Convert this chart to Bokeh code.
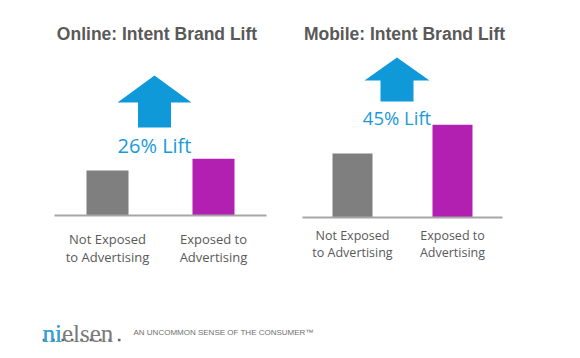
from bokeh.plotting import figure
from bokeh.models import Range1d
from bokeh.layouts import column, row
from bokeh.embed import file_html
from bokeh.resources import INLINE
from bokeh.core.properties import value

# ---------------- data ----------------
categories = ["Not Exposed\nto Advertising", "Exposed to\nAdvertising"]
online_values = [100, 126]     # intent index (not exposed = 100)
mobile_values = [100, 145]
online_lift = "26% Lift"
mobile_lift = "45% Lift"
online_title = "Online: Intent Brand Lift"
mobile_title = "Mobile: Intent Brand Lift"
brand_name = "nielsen"
brand_accent = "ni"
tagline = "AN UNCOMMON SENSE OF THE CONSUMER\u2122"
n_brand_dots = 9

# ---------------- styles ----------------
BAR_COLORS = ["#7f7f7f", "#b120b0"]
BLUE = "#0f99d8"
LIFT_BLUE = "#1b9ad8"
TEXT_GRAY = "#595959"
BASE_GRAY = "#a6a6a6"
PANEL_W, PANEL_H = 290, 290
FOOT_H = 68

online_cfg = dict(ppu=0.45, base=215, x0=107, dx=106, bar_px=42,
                  arrow=dict(cx=154, head=37, shaft=16.5, top=75, mid=102, bot=127),
                  lift=dict(cx=154, cy=145, size="20px"),
                  title=dict(cx=156.5, cy=33),
                  label=dict(top=229, size="13px"))
mobile_cfg = dict(ppu=0.64, base=217, x0=62, dx=100, bar_px=40,
                  arrow=dict(cx=106.5, head=32.5, shaft=16.5, top=57, mid=80, bot=101),
                  lift=dict(cx=106.5, cy=117, size="18.5px"),
                  title=dict(cx=114, cy=33),
                  label=dict(top=226, size="12.5px"))


def panel(values, lift_text, title_text, cfg):
    ppu, base, x0, dx = cfg["ppu"], cfg["base"], cfg["x0"], cfg["dx"]

    def X(px):
        return (px - x0) / dx

    def Y(py):
        return (base - py) / ppu

    p = figure(width=PANEL_W, height=PANEL_H, output_backend="svg",
               toolbar_location=None, x_axis_type=None, y_axis_type=None,
               x_range=Range1d(X(0), X(PANEL_W)), y_range=Range1d(Y(PANEL_H), Y(0)),
               min_border=0, outline_line_color=None,
               background_fill_color="white", border_fill_color="white")

    xs = list(range(len(values)))
    p.vbar(x=xs, top=values, bottom=0, width=cfg["bar_px"] / dx,
           fill_color=BAR_COLORS, line_color=None)
    # baseline
    p.line(x=[-0.5, len(values) - 0.5], y=[0, 0], line_color=BASE_GRAY, line_width=2)

    # category labels
    lab = cfg["label"]
    p.text(x=xs, y=[Y(lab["top"])] * len(xs), text=categories,
           text_font=value("Open Sans"), text_font_size=lab["size"],
           text_color=TEXT_GRAY, text_align="center", text_baseline="top",
           text_line_height=1.0)

    # arrow
    a = cfg["arrow"]
    ax = [a["cx"], a["cx"] + a["head"], a["cx"] + a["shaft"], a["cx"] + a["shaft"],
          a["cx"] - a["shaft"], a["cx"] - a["shaft"], a["cx"] - a["head"]]
    ay = [a["top"], a["mid"], a["mid"], a["bot"], a["bot"], a["mid"], a["mid"]]
    p.patch(x=[X(v) for v in ax], y=[Y(v) for v in ay], fill_color=BLUE, line_color=None)

    # lift text
    lf = cfg["lift"]
    p.text(x=[X(lf["cx"])], y=[Y(lf["cy"])], text=[lift_text],
           text_font=value("Open Sans"), text_font_size=lf["size"],
           text_color=LIFT_BLUE, text_align="center", text_baseline="middle")

    # title
    t = cfg["title"]
    p.text(x=[X(t["cx"])], y=[Y(t["cy"])], text=[title_text],
           text_font=value("Liberation Sans"), text_font_size="17.5px",
           text_font_style="bold", text_color=TEXT_GRAY,
           text_align="center", text_baseline="middle")
    return p


p1 = panel(online_values, online_lift, online_title, online_cfg)
p2 = panel(mobile_values, mobile_lift, mobile_title, mobile_cfg)

# footer (pixel-like coordinates, y measured upward from footer bottom)
foot = figure(width=2 * PANEL_W, height=FOOT_H, output_backend="svg",
              toolbar_location=None, x_axis_type=None, y_axis_type=None,
              x_range=Range1d(0, 2 * PANEL_W), y_range=Range1d(0, FOOT_H),
              min_border=0, outline_line_color=None,
              background_fill_color="white", border_fill_color="white")
BRAND_X, BRAND_Y = 42, FOOT_H - 43
dot_x = [BRAND_X + 1.5 + i * 9.4 for i in range(n_brand_dots)]
foot.scatter(x=dot_x, y=[FOOT_H - 49.5] * n_brand_dots, size=2.6, marker="square",
             fill_color="#666666", line_color=None)
foot.text(x=[BRAND_X], y=[BRAND_Y], text=[brand_name], text_font=value("Liberation Serif"),
          text_font_size="25px", text_color="#7a7a7a", text_align="left",
          text_baseline="alphabetic")
foot.text(x=[BRAND_X], y=[BRAND_Y], text=[brand_accent], text_font=value("Liberation Serif"),
          text_font_size="25px", text_color="#29a9e1", text_align="left",
          text_baseline="alphabetic")
foot.text(x=[133], y=[FOOT_H - 42], text=[tagline], text_font=value("Liberation Sans"),
          text_font_size="8px", text_color="#6f6f6f", text_align="left",
          text_baseline="middle")

layout = column(row(p1, p2), foot)
open("out.html", "w").write(file_html(layout, INLINE))
